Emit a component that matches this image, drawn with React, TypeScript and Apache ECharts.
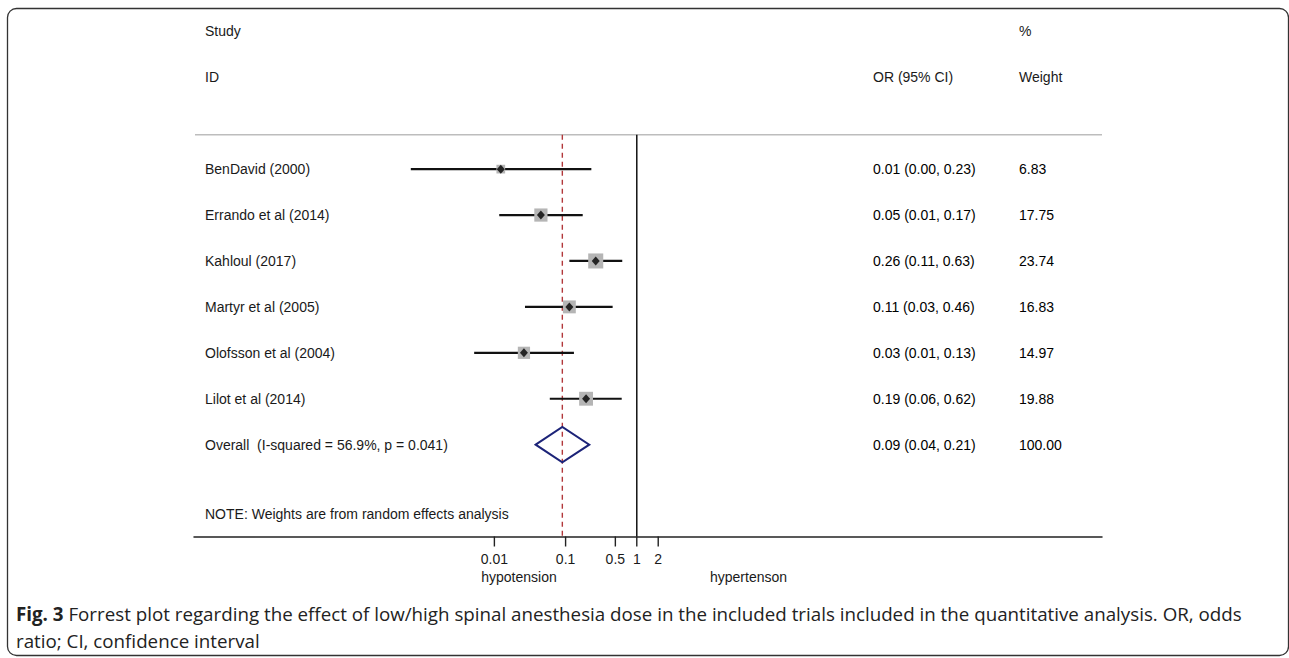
import React, { useEffect, useRef } from "react";
import * as echarts from "echarts";

// ---------- data ----------
const studies = [
  "BenDavid (2000)",
  "Errando et al (2014)",
  "Kahloul (2017)",
  "Martyr et al (2005)",
  "Olofsson et al (2004)",
  "Lilot et al (2014)",
];
const orEst = [0.0123, 0.045, 0.265, 0.113, 0.026, 0.194];
const ciLow = [0.00067, 0.0117, 0.113, 0.0269, 0.0052, 0.06];
const ciHigh = [0.23, 0.174, 0.625, 0.458, 0.131, 0.614];
const weights = [6.83, 17.75, 23.74, 16.83, 14.97, 19.88];
const orText = [
  "0.01 (0.00, 0.23)",
  "0.05 (0.01, 0.17)",
  "0.26 (0.11, 0.63)",
  "0.11 (0.03, 0.46)",
  "0.03 (0.01, 0.13)",
  "0.19 (0.06, 0.62)",
];
const weightText = ["6.83", "17.75", "23.74", "16.83", "14.97", "19.88"];

const overallLabel = "Overall  (I-squared = 56.9%, p = 0.041)";
const overallEst = 0.09;
const overallLow = 0.038;
const overallHigh = 0.215;
const overallText = "0.09 (0.04, 0.21)";
const overallWeight = "100.00";
const noteText = "NOTE: Weights are from random effects analysis";

const nullValue = 1;
const tickValues = [0.01, 0.1, 0.5, 1, 2];
const tickLabels = ["0.01", "0.1", "0.5", "1", "2"];

const headerRow1 = ["Study", "", "%"];
const headerRow2 = ["ID", "OR (95% CI)", "Weight"];

const leftLabel = "hypotension";
const rightLabel = "hypertenson";
const captionBold = "Fig. 3";
const captionLine1 =
  " Forrest plot regarding the effect of low/high spinal anesthesia dose in the included trials included in the quantitative analysis. OR, odds";
const captionLine2 = "ratio; CI, confidence interval";

// ---------- layout ----------
const FONT = "'Liberation Sans', Arial, Helvetica, sans-serif";
const FS = 14;
const COL_LABEL = 205;
const COL_OR = 873;
const COL_W = 1019;
const CAP_FONT = "'Open Sans', sans-serif";
const CAP_FS = 18.75;

export default function App() {
  const ref = useRef<HTMLDivElement>(null);

  useEffect(() => {
    document.body.style.margin = "0";
    if (!ref.current) return;
    const chart = echarts.init(ref.current, undefined, { renderer: "svg" });

    const nRows = studies.length;
    const overallRow = nRows + 1;
    const noteRow = overallRow + 1.5;
    const axisRow = overallRow + 2;
    const topLineRow = 0.25;

    const txt = (x: number, y: number, text: string, align = "left", extra: any = {}) => ({
      type: "text",
      x,
      y,
      style: {
        text,
        fontSize: FS,
        fontFamily: FONT,
        fill: "#1a1a1a",
        align,
        verticalAlign: "middle",
        ...extra,
      },
    });

    const tableRows = [
      ...studies.map((s, i) => [s, orText[i], weightText[i], i + 1]),
      [overallLabel, overallText, overallWeight, overallRow],
    ];

    const option: any = {
      animation: false,
      backgroundColor: "#ffffff",
      grid: { left: 194, right: 187, top: 8.4, bottom: 121.5, containLabel: false },
      xAxis: {
        type: "log",
        logBase: 10,
        min: Math.pow(10, -6.219),
        max: Math.pow(10, 6.534),
        axisLine: { show: true, onZero: false, lineStyle: { color: "#222", width: 1.5 } },
        axisTick: { show: false },
        axisLabel: { show: false },
        splitLine: { show: false },
      },
      yAxis: {
        type: "value",
        inverse: true,
        min: -2.5,
        max: axisRow,
        show: false,
        splitLine: { show: false },
      },
      series: [
        // top separator line
        {
          type: "custom",
          clip: false,
          z: 1,
          data: [[nullValue, topLineRow]],
          renderItem: (params: any, api: any) => {
            const y = api.coord([api.value(0), api.value(1)])[1];
            const cs = params.coordSys;
            return {
              type: "line",
              shape: { x1: cs.x + 1, y1: y, x2: cs.x + cs.width, y2: y },
              style: { stroke: "#bdbdbd", lineWidth: 1.5 },
            };
          },
        },
        // vertical reference lines
        {
          type: "custom",
          clip: false,
          z: 1,
          data: [
            [nullValue, topLineRow, axisRow],
            [overallEst, topLineRow, axisRow],
          ],
          renderItem: (params: any, api: any) => {
            const p1 = api.coord([api.value(0), api.value(1)]);
            const p2 = api.coord([api.value(0), api.value(2)]);
            const isNull = params.dataIndex === 0;
            return {
              type: "line",
              shape: { x1: p1[0], y1: p1[1], x2: p2[0], y2: p2[1] },
              style: isNull
                ? { stroke: "#111", lineWidth: 1.5 }
                : { stroke: "#b2383b", lineWidth: 1.4, lineDash: [5, 4] },
            };
          },
        },
        // CI lines
        {
          type: "custom",
          clip: false,
          z: 2,
          data: studies.map((_, i) => [ciLow[i], ciHigh[i], i + 1]),
          encode: { x: [0, 1], y: 2 },
          renderItem: (params: any, api: any) => {
            const a = api.coord([api.value(0), api.value(2)]);
            const b = api.coord([api.value(1), api.value(2)]);
            return {
              type: "line",
              shape: { x1: a[0], y1: a[1], x2: b[0], y2: b[1] },
              style: { stroke: "#111", lineWidth: 2.2 },
            };
          },
        },
        // weight squares
        {
          type: "scatter",
          z: 3,
          symbol: "rect",
          symbolSize: (v: number[]) => 1.4 + 2.8 * Math.sqrt(v[2]),
          itemStyle: { color: "#b5b5b5", opacity: 1 },
          data: studies.map((_, i) => [orEst[i], i + 1, weights[i]]),
          silent: true,
        },
        // point estimates
        {
          type: "scatter",
          z: 4,
          symbol: "diamond",
          symbolSize: [8, 9],
          itemStyle: { color: "#000" },
          data: studies.map((_, i) => [orEst[i], i + 1]),
          silent: true,
        },
        // overall diamond
        {
          type: "custom",
          clip: false,
          z: 4,
          data: [[overallLow, overallEst, overallHigh, overallRow]],
          encode: { x: [0, 1, 2], y: 3 },
          renderItem: (params: any, api: any) => {
            const row = api.value(3);
            const l = api.coord([api.value(0), row]);
            const c = api.coord([api.value(1), row]);
            const r = api.coord([api.value(2), row]);
            const top = api.coord([api.value(1), row - 0.385])[1];
            const bot = api.coord([api.value(1), row + 0.385])[1];
            return {
              type: "polygon",
              shape: { points: [[l[0], l[1]], [c[0], top], [r[0], r[1]], [c[0], bot]] },
              style: { fill: "none", stroke: "#1c2378", lineWidth: 2 },
            };
          },
        },
        // ticks and tick labels
        {
          type: "custom",
          clip: false,
          z: 5,
          data: tickValues.map((v) => [v, axisRow]),
          renderItem: (params: any, api: any) => {
            const p = api.coord([api.value(0), api.value(1)]);
            return {
              type: "group",
              children: [
                {
                  type: "line",
                  shape: { x1: p[0], y1: p[1], x2: p[0], y2: p[1] + 10 },
                  style: { stroke: "#222", lineWidth: 1.4 },
                },
                txt(p[0], p[1] + 22, tickLabels[params.dataIndex], "center"),
              ],
            };
          },
        },
        // table text rows
        {
          type: "custom",
          clip: false,
          z: 5,
          data: tableRows.map((r) => [nullValue, r[3]]),
          renderItem: (params: any, api: any) => {
            const row = tableRows[params.dataIndex];
            const y = api.coord([api.value(0), api.value(1)])[1];
            return {
              type: "group",
              children: [
                txt(COL_LABEL, y, row[0] as string),
                txt(COL_OR, y, row[1] as string, "left", { fill: "#000" }),
                txt(COL_W, y, row[2] as string, "left", { fill: "#000" }),
              ],
            };
          },
        },
        // headers and note
        {
          type: "custom",
          clip: false,
          z: 5,
          data: [
            [nullValue, -2],
            [nullValue, -1],
            [nullValue, noteRow],
          ],
          renderItem: (params: any, api: any) => {
            const y = api.coord([api.value(0), api.value(1)])[1];
            const i = params.dataIndex;
            if (i === 2) return txt(COL_LABEL, y, noteText);
            const h = i === 0 ? headerRow1 : headerRow2;
            return {
              type: "group",
              children: [txt(COL_LABEL, y, h[0]), txt(COL_OR, y, h[1]), txt(COL_W, y, h[2])],
            };
          },
        },
      ],
      graphic: [
        {
          type: "rect",
          shape: { x: 7.5, y: 8.5, width: 1281, height: 647, r: 9 },
          style: { fill: "none", stroke: "#333", lineWidth: 1.3 },
          silent: true,
        },
        {
          type: "text",
          x: 519,
          y: 577,
          style: { text: leftLabel, fontSize: FS, fontFamily: FONT, fill: "#1a1a1a", align: "center", verticalAlign: "middle" },
        },
        {
          type: "text",
          x: 748.5,
          y: 577,
          style: { text: rightLabel, fontSize: FS, fontFamily: FONT, fill: "#1a1a1a", align: "center", verticalAlign: "middle" },
        },
        {
          type: "text",
          x: 16,
          y: 600,
          style: {
            text: "{b|" + captionBold + "}{n|" + captionLine1 + "}\n{n|" + captionLine2 + "}",
            fontFamily: CAP_FONT,
            fontSize: CAP_FS,
            fill: "#222",
            align: "left",
            verticalAlign: "top",
            lineHeight: 27,
            rich: {
              b: { fontFamily: CAP_FONT, fontSize: CAP_FS, fontWeight: "bold", fill: "#222", lineHeight: 27 },
              n: { fontFamily: CAP_FONT, fontSize: CAP_FS, fill: "#222", lineHeight: 27 },
            },
          },
        },
      ],
    };

    chart.setOption(option);
    return () => chart.dispose();
  }, []);

  return <div ref={ref} style={{ width: 1289, height: 658 }} />;
}
